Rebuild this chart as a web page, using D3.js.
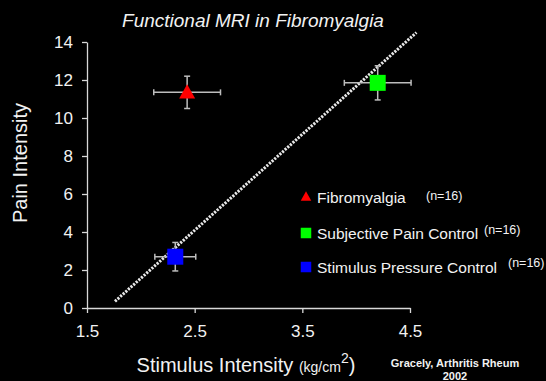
<!DOCTYPE html>
<html>
<head>
<meta charset="utf-8">
<script src="https://cdn.jsdelivr.net/npm/d3@7"></script>
<style>
  body { margin: 0; background: #000; }
  text { font-family: "Liberation Sans", Arial, sans-serif; fill: #f2f2f2; }
</style>
</head>
<body>
<div id="chart"></div>
<script>
const groups = ["Fibromyalgia", "Subjective Pain Control", "Stimulus Pressure Control"];
const stimulus = [2.43, 4.20, 2.32];
const pain = [11.35, 11.85, 2.7];
const stimulusErr = [0.31, 0.31, 0.19];
const painErr = [0.85, 0.9, 0.75];
const colors = ["#ff0000", "#00ff00", "#0000ff"];
const shapes = ["triangle", "square", "square"];
const nLabels = ["(n=16)", "(n=16)", "(n=16)"];

const fitX = [1.76, 4.56];
const fitY = [0.35, 14.5];

const xTicks = [1.5, 2.5, 3.5, 4.5];
const yTicks = [0, 2, 4, 6, 8, 10, 12, 14];

const width = 546, height = 381;
const margin = { left: 87, top: 42, right: 136, bottom: 73 };

const svg = d3.select("#chart").append("svg")
    .attr("width", width)
    .attr("height", height)
    .style("background", "#000");

const x = d3.scaleLinear().domain([1.5, 4.5]).range([margin.left, width - margin.right]);
const y = d3.scaleLinear().domain([0, 14]).range([height - margin.bottom, margin.top]);

// axes
const xAxis = svg.append("g")
    .attr("transform", `translate(0,${y(0)})`)
    .call(d3.axisBottom(x).tickValues(xTicks).tickFormat(d3.format(".1f")).tickSize(5).tickPadding(12).tickSizeOuter(0));
const yAxis = svg.append("g")
    .attr("transform", `translate(${x(1.5)},0)`)
    .call(d3.axisLeft(y).tickValues(yTicks).tickSize(5).tickPadding(9).tickSizeOuter(0));

[xAxis, yAxis].forEach(a => {
    a.selectAll("path, line").attr("stroke", "#d8d8d8").attr("stroke-width", 1.3);
    a.selectAll("text").style("font-size", "17px").attr("fill", "#f2f2f2");
});

// fit line
svg.append("line")
    .attr("x1", x(fitX[0])).attr("y1", y(fitY[0]))
    .attr("x2", x(fitX[1])).attr("y2", y(fitY[1]))
    .attr("stroke", "#e8e8e8")
    .attr("stroke-width", 3)
    .attr("stroke-dasharray", "2.2,1.3");

// error bars
const cap = 3;
const pts = groups.map((g, i) => ({ g, i }));
const err = svg.append("g").attr("stroke", "#bdbdbd").attr("stroke-width", 1.5);
pts.forEach(({ i }) => {
    const cx = x(stimulus[i]), cy = y(pain[i]);
    const x0 = x(stimulus[i] - stimulusErr[i]), x1 = x(stimulus[i] + stimulusErr[i]);
    const y0 = y(pain[i] - painErr[i]), y1 = y(pain[i] + painErr[i]);
    err.append("line").attr("x1", x0).attr("x2", x1).attr("y1", cy).attr("y2", cy);
    err.append("line").attr("x1", x0).attr("x2", x0).attr("y1", cy - cap).attr("y2", cy + cap);
    err.append("line").attr("x1", x1).attr("x2", x1).attr("y1", cy - cap).attr("y2", cy + cap);
    err.append("line").attr("x1", cx).attr("x2", cx).attr("y1", y0).attr("y2", y1);
    err.append("line").attr("x1", cx - cap).attr("x2", cx + cap).attr("y1", y0).attr("y2", y0);
    err.append("line").attr("x1", cx - cap).attr("x2", cx + cap).attr("y1", y1).attr("y2", y1);
});

// markers
function marker(sel, shape, size) {
    if (shape === "triangle") {
        const h = size * 0.9;
        sel.append("path").attr("d", `M0,${-h / 2 - 1}L${size / 2},${h / 2 - 1}L${-size / 2},${h / 2 - 1}Z`);
    } else {
        sel.append("rect").attr("x", -size / 2).attr("y", -size / 2).attr("width", size).attr("height", size);
    }
}

svg.append("g").selectAll("g")
    .data(pts)
    .join("g")
    .attr("transform", d => `translate(${x(stimulus[d.i])},${y(pain[d.i])})`)
    .attr("fill", d => colors[d.i])
    .each(function (d) { marker(d3.select(this), shapes[d.i], 16); });

// legend
const legendY = [203, 239, 273];
const nX = [426, 484, 508];
const nY = [200, 234, 267];
const legend = svg.append("g");
pts.forEach(({ g, i }) => {
    legend.append("g")
        .attr("transform", `translate(306,${legendY[i] - 6})`)
        .attr("fill", colors[i])
        .call(s => marker(s, shapes[i], 10.5));
    legend.append("text").attr("x", 317).attr("y", legendY[i])
        .style("font-size", "15.5px").text(g);
    legend.append("text").attr("x", nX[i]).attr("y", nY[i])
        .style("font-size", "12.5px").text(nLabels[i]);
});

// title & labels
svg.append("text")
    .attr("x", 253).attr("y", 27)
    .attr("text-anchor", "middle")
    .style("font-size", "19px").style("font-style", "italic")
    .text("Functional MRI in Fibromyalgia");

svg.append("text")
    .attr("transform", "translate(27,163) rotate(-90)")
    .attr("text-anchor", "middle")
    .style("font-size", "20px")
    .text("Pain Intensity");

const xl = svg.append("text")
    .attr("x", 246).attr("y", 372)
    .attr("text-anchor", "middle")
    .style("font-size", "20px");
xl.append("tspan").text("Stimulus Intensity ");
xl.append("tspan").style("font-size", "14px").text("(kg/cm");
xl.append("tspan").style("font-size", "14px").attr("dy", -9).text("2");
xl.append("tspan").style("font-size", "20px").attr("dy", 9).text(")");

svg.append("text")
    .attr("x", 455).attr("y", 367)
    .attr("text-anchor", "middle")
    .style("font-size", "11px").style("font-weight", "bold")
    .text("Gracely, Arthritis Rheum");
svg.append("text")
    .attr("x", 455).attr("y", 380)
    .attr("text-anchor", "middle")
    .style("font-size", "11px").style("font-weight", "bold")
    .text("2002");
</script>
</body>
</html>
